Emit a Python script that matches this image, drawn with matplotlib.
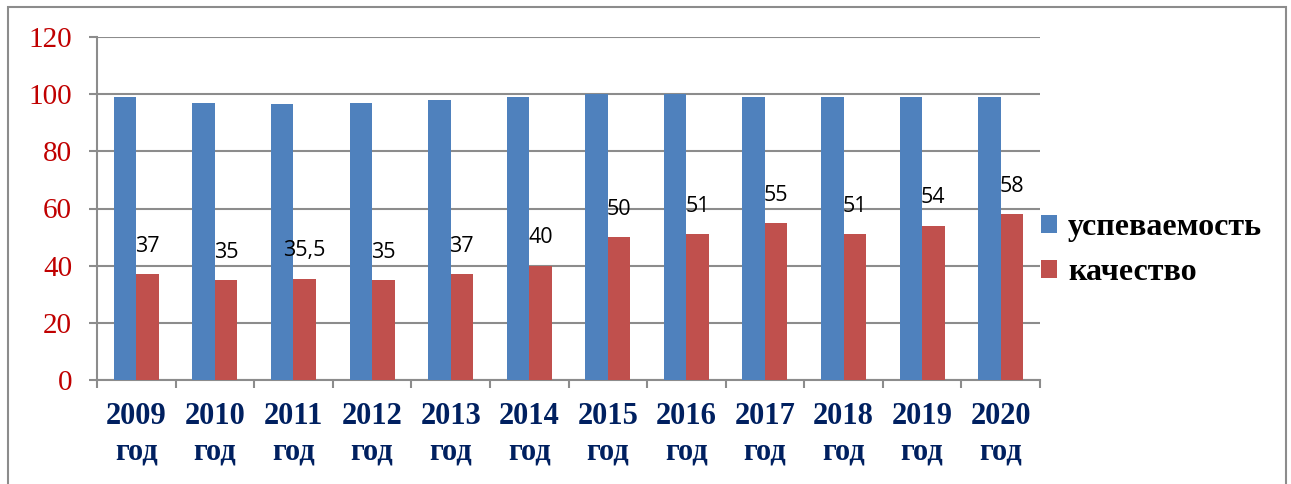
import numpy as np
import matplotlib.pyplot as plt
from matplotlib.patches import Rectangle

years = ['2009', '2010', '2011', '2012', '2013', '2014',
         '2015', '2016', '2017', '2018', '2019', '2020']
uspev = [99, 97, 96.5, 97, 98, 99, 100, 100, 99, 99, 99, 99]
kach = [37, 35, 35.5, 35, 37, 40, 50, 51, 55, 51, 54, 58]
kach_labels = ['37', '35', '35,5', '35', '37', '40', '50', '51', '55', '51', '54', '58']

fig = plt.figure(figsize=(12.91, 4.84), dpi=100)
ax = fig.add_axes([97/1291, 1-380/484, (1040-97)/1291, (380-37)/484])

x = np.arange(len(years))
w = 0.286
b1 = ax.bar(x - w/2, uspev, w, color='#4F81BD', label='успеваемость', zorder=3)
b2 = ax.bar(x + w/2, kach, w, color='#C0504D', label='качество', zorder=3)

for xi, v, t in zip(x, kach, kach_labels):
    ax.annotate(t, (xi + w/2, v), xytext=(0, 20), textcoords='offset points',
                ha='center', va='center', fontsize=15.5, family='Open Sans', color='black')

ax.set_xlim(-0.5, len(years) - 0.5)
ax.set_ylim(0, 120)
ax.set_yticks(range(0, 121, 20))
ax.yaxis.grid(True, color='#8c8c8c', linewidth=1.5, zorder=0)
ax.set_axisbelow(True)

ax.set_xticks(x)
ax.set_xticklabels([y + '\nгод' for y in years], family='Liberation Serif',
                   fontweight='bold', fontsize=22, color='#002060', linespacing=1.3)
ax.set_xticks(np.arange(-0.5, len(years)), minor=True)
ax.tick_params(axis='x', which='major', length=0, pad=16)
ax.tick_params(axis='x', which='minor', length=6, width=1.5, color='#8c8c8c')
ax.tick_params(axis='y', length=6, width=1.5, color='#8c8c8c', pad=12,
               labelsize=21, labelcolor='#C00000')
for lab in ax.get_yticklabels():
    lab.set_family('Liberation Serif')

for s in ['top', 'right']:
    ax.spines[s].set_visible(False)
for s in ['left', 'bottom']:
    ax.spines[s].set_color('#8c8c8c')
    ax.spines[s].set_linewidth(1.5)

leg = fig.legend(handles=[b1, b2], loc='center left', bbox_to_anchor=(1041/1291, 1-250/484),
                 frameon=False, fontsize=23, borderpad=0, borderaxespad=0,
                 handlelength=0.5, handleheight=0.5, handletextpad=0.35, labelspacing=0.5)
for t in leg.get_texts():
    t.set_fontfamily('Liberation Serif')
    t.set_fontweight('bold')

fig.patches.append(Rectangle((8/1291, -0.05), 1278/1291, 1.05 - 7/484,
                             transform=fig.transFigure, fill=False,
                             edgecolor='#8c8c8c', linewidth=1.5))

plt.savefig('out.png', dpi=100)
